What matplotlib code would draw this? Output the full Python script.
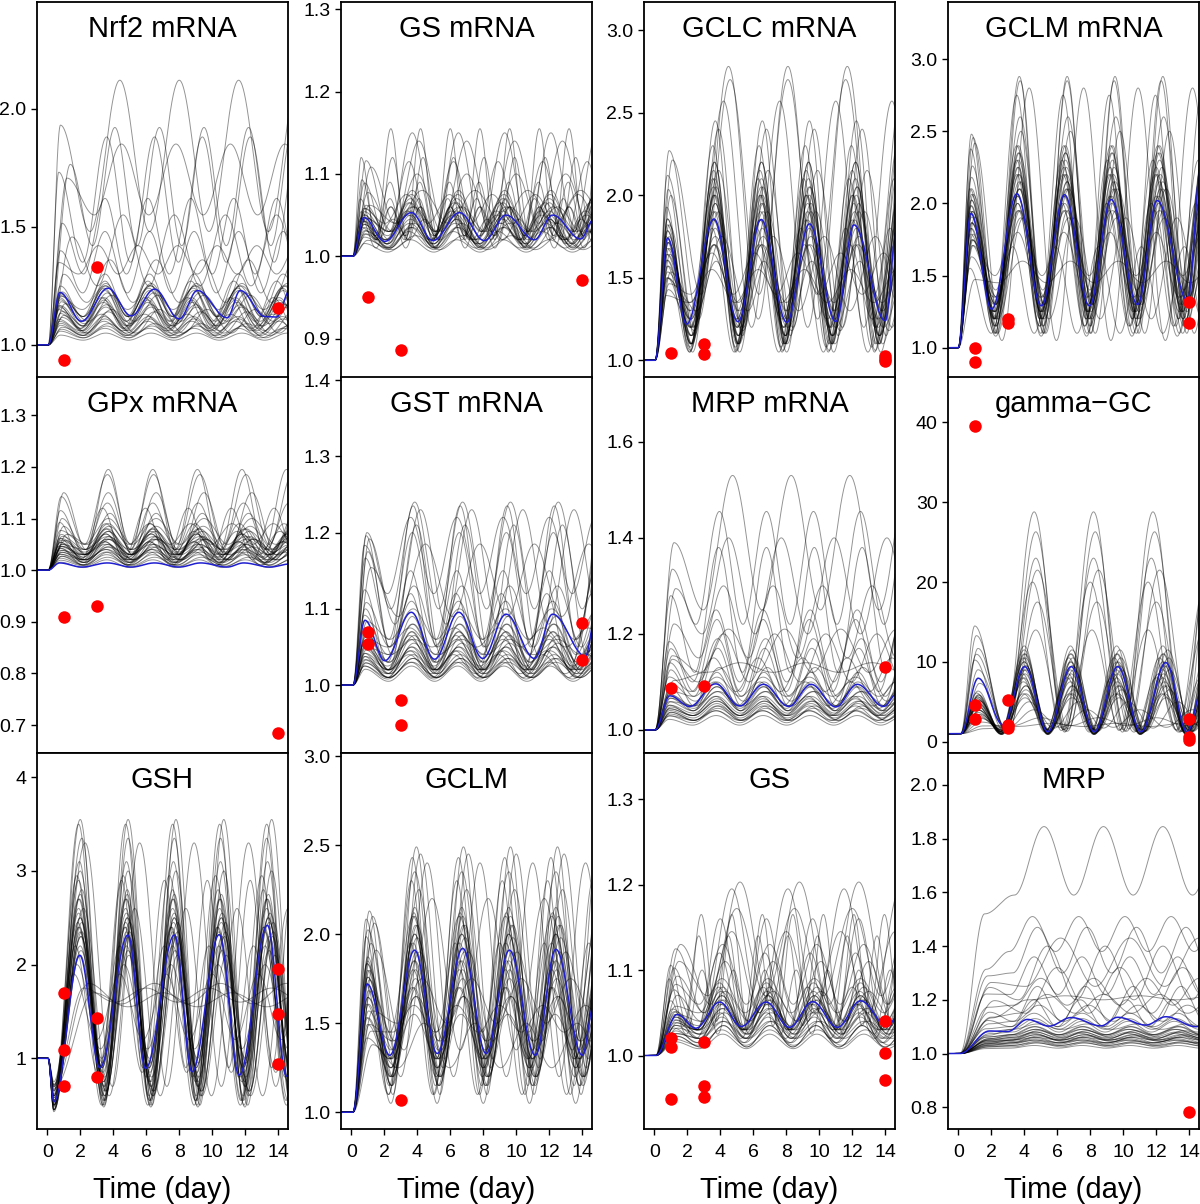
import numpy as np
import matplotlib
matplotlib.use("Agg")
import matplotlib.pyplot as plt

plt.rcParams['font.family'] = ['Liberation Sans', 'DejaVu Sans']

# ---------------- data ----------------
# blue mean curves: key points (time, value) at onset / peaks / troughs
nrf2_bt = [-0.7, 0.06, 0.77, 2.07, 3.68, 5.09, 6.5, 8.0, 9.1, 10.9, 11.7, 13.2, 13.9, 14.7]
nrf2_bv = [1, 1, 1.222, 1.10, 1.24, 1.123, 1.236, 1.11, 1.23, 1.115, 1.23, 1.12, 1.118, 1.23]
gsm_bt = [-0.7, 0.1, 0.77, 2.03, 3.64, 4.95, 6.56, 8.07, 9.38, 11.1, 12.2, 13.9, 14.7]
gsm_bv = [1, 1, 1.047, 1.018, 1.053, 1.019, 1.053, 1.019, 1.05, 1.02, 1.05, 1.021, 1.045]
gclcm_bt = [-0.7, 0.05, 0.81, 1.96, 3.62, 5.07, 6.48, 8.03, 9.4, 11.0, 12.1, 14.0, 14.7]
gclcm_bv = [1, 1, 1.74, 1.22, 1.856, 1.234, 1.853, 1.23, 1.826, 1.235, 1.82, 1.24, 1.8]
gclmm_bt = [-0.7, 0.0, 0.77, 2.02, 3.56, 5.03, 6.44, 7.95, 9.26, 10.87, 12.05, 13.9, 14.7]
gclmm_bv = [1, 1, 1.93, 1.267, 2.067, 1.29, 2.06, 1.29, 2.027, 1.3, 2.02, 1.33, 2.25]
gpx_bt = [-0.7, 0.05, 0.75, 2.1, 3.65, 5.1, 6.5, 8.0, 9.3, 10.9, 11.9, 13.5, 14.7]
gpx_bv = [1, 1, 1.014, 1.006, 1.014, 1.006, 1.014, 1.006, 1.014, 1.006, 1.014, 1.006, 1.012]
gst_bt = [-0.7, 0.1, 0.83, 2.03, 3.64, 5.05, 6.52, 7.97, 9.38, 11.1, 12.2, 14.2, 14.7]
gst_bv = [1, 1, 1.085, 1.032, 1.0955, 1.034, 1.0955, 1.035, 1.093, 1.035, 1.093, 1.038, 1.08]
mrpm_bt = [-0.7, 0.05, 0.95, 2.15, 3.72, 5.17, 6.62, 8.15, 9.5, 11.0, 12.3, 13.9, 14.7]
mrpm_bv = [1, 1, 1.071, 1.049, 1.096, 1.05, 1.095, 1.049, 1.095, 1.048, 1.095, 1.049, 1.075]
ggc_bt = [-0.7, 0.15, 1.21, 2.72, 4.02, 5.43, 6.84, 8.25, 9.66, 11.07, 12.58, 13.88, 14.7]
ggc_bv = [1, 1, 7.95, 2.1, 9.4, 1.25, 9.4, 1.25, 9.4, 1.25, 9.9, 1.2, 6.0]
gsh_bt = [-0.7, 0.05, 0.4, 1.97, 3.19, 4.89, 5.96, 7.71, 8.77, 10.42, 11.63, 13.34, 14.5, 14.7]
gsh_bv = [1, 1, 0.537, 2.10, 0.9, 2.316, 0.893, 2.316, 0.857, 2.32, 0.82, 2.42, 0.81, 0.85]
gclm_bt = [-0.7, 0.1, 0.97, 2.34, 3.84, 5.21, 6.76, 8.17, 9.58, 11.15, 12.4, 14.0, 14.7]
gclm_bv = [1, 1, 1.72, 1.32, 1.91, 1.33, 1.92, 1.33, 1.91, 1.32, 1.915, 1.32, 1.6]
gs_bt = [-0.7, 0.1, 1.39, 2.52, 3.97, 5.27, 6.78, 8.19, 9.6, 11.1, 12.5, 14.13, 14.7]
gs_bv = [1, 1, 1.048, 1.032, 1.0625, 1.034, 1.0625, 1.033, 1.063, 1.033, 1.064, 1.034, 1.045]
mrp_bt = [-0.7, 0.1, 1.9, 3.0, 4.2, 5.5, 6.84, 8.65, 9.66, 11.37, 12.58, 14.4, 14.7]
mrp_bv = [1, 1, 1.084, 1.082, 1.127, 1.102, 1.134, 1.103, 1.135, 1.106, 1.137, 1.10, 1.102]

# highest first peak of the gray curves in each panel
first_max = [1.93, 1.12, 2.27, 2.48, 1.15, 1.2, 1.39, 14.5, 3.55, 2.13, 1.13, 1.52]

# gray simulation curves: peak level, trough level, period (day), first peak time
nrf2_gp = [2.12, 1.92, 1.88, 1.85, 1.62, 1.55, 1.48, 1.42, 1.36, 1.30, 1.27, 1.25, 1.23, 1.21, 1.19, 1.17, 1.15, 1.13, 1.11, 1.09, 1.07, 1.05, 1.25, 1.2,
           1.26, 1.24, 1.22, 1.2, 1.18, 1.16, 1.14, 1.12, 1.1, 1.08]
nrf2_gt = [1.48, 1.42, 1.35, 1.55, 1.30, 1.25, 1.22, 1.30, 1.18, 1.12, 1.10, 1.15, 1.08, 1.10, 1.06, 1.08, 1.05, 1.06, 1.04, 1.04, 1.03, 1.02, 1.12, 1.07,
           1.12, 1.1, 1.09, 1.08, 1.07, 1.06, 1.05, 1.05, 1.04, 1.03]
nrf2_gper = [3.6, 2.7, 2.9, 3.3, 2.6, 3.1, 2.7, 2.4, 2.8, 2.7, 2.6, 2.75, 2.7, 2.8, 2.65, 2.7, 2.9, 2.6, 2.7, 2.8, 2.7, 2.75, 2.7, 2.6,
             2.75, 2.7, 2.8, 2.65, 2.7, 2.75, 2.8, 2.7, 2.65, 2.75]
nrf2_gt1 = [0.8, 1.4, 0.7, 1.2, 0.9, 1.5, 0.8, 0.7, 1.0, 0.8, 0.9, 0.75, 0.8, 1.1, 0.8, 0.9, 1.0, 0.7, 0.8, 0.9, 0.8, 0.8, 0.85, 0.7,
            0.8, 0.75, 0.85, 0.8, 0.7, 0.8, 0.9, 0.75, 0.8, 0.85]

gsm_gp = [1.155, 1.15, 1.14, 1.12, 1.115, 1.10, 1.09, 1.08, 1.075, 1.07, 1.065, 1.06, 1.055, 1.05, 1.045, 1.04, 1.035, 1.03, 1.025, 1.02, 1.06, 1.08,
          1.07, 1.065, 1.06, 1.055, 1.05, 1.045, 1.04, 1.06, 1.075, 1.035]
gsm_gt = [1.02, 1.03, 1.04, 1.02, 1.015, 1.03, 1.025, 1.02, 1.04, 1.02, 1.015, 1.03, 1.02, 1.01, 1.02, 1.015, 1.01, 1.01, 1.008, 1.005, 1.01, 1.04,
          1.025, 1.02, 1.03, 1.015, 1.02, 1.012, 1.01, 1.025, 1.03, 1.008]
gsm_gper = [1.8, 2.8, 2.9, 1.85, 2.7, 3.0, 1.8, 2.8, 2.6, 1.75, 2.8, 2.9, 2.7, 2.8, 1.9, 2.75, 2.8, 2.7, 2.9, 2.8, 1.8, 3.2,
            2.8, 2.75, 2.85, 2.8, 2.7, 2.8, 2.9, 1.8, 2.8, 2.8]
gsm_gt1 = [0.6, 0.9, 1.2, 0.65, 0.8, 1.0, 0.55, 0.9, 0.75, 0.6, 0.8, 0.9, 0.7, 0.8, 0.65, 0.8, 0.9, 0.8, 1.0, 0.8, 0.6, 1.1,
           0.8, 0.75, 0.85, 0.8, 0.75, 0.8, 0.9, 0.6, 0.85, 0.8]

gclcm_gp = [2.78, 2.7, 2.57, 2.45, 2.4, 2.3, 2.2, 2.15, 2.1, 2.05, 2.0, 1.95, 1.9, 1.85, 1.8, 1.75, 1.7, 1.65, 1.6, 1.55, 2.2, 1.9, 2.0, 1.7,
            2.1, 2.0, 1.95, 1.9, 1.85, 1.8, 1.75, 2.15, 2.05, 1.7]
gclcm_gt = [1.25, 1.4, 1.2, 1.1, 1.15, 1.05, 1.1, 1.2, 1.08, 1.3, 1.15, 1.1, 1.25, 1.2, 1.05, 1.3, 1.15, 1.4, 1.2, 1.35, 1.1, 1.18, 1.06, 1.25,
            1.15, 1.2, 1.1, 1.25, 1.2, 1.15, 1.3, 1.1, 1.05, 1.35]
gclcm_gper = [3.6, 3.5, 3.4, 2.85, 2.9, 2.8, 2.85, 3.0, 2.75, 2.9, 2.85, 2.8, 2.9, 2.85, 2.7, 3.1, 2.85, 2.6, 2.9, 2.8, 2.85, 2.95, 2.8, 2.75,
              2.85, 2.8, 2.9, 2.85, 2.8, 2.85, 2.9, 2.8, 2.85, 2.9]
gclcm_gt1 = [0.9, 1.1, 0.8, 0.85, 1.0, 0.75, 0.8, 0.9, 0.8, 0.7, 0.85, 0.9, 0.8, 0.75, 0.8, 1.0, 0.8, 0.9, 0.85, 0.7, 0.8, 0.95, 0.8, 0.85,
             0.8, 0.85, 0.8, 0.75, 0.8, 0.85, 0.8, 0.8, 0.9, 0.75]

gclmm_gp = [2.88, 2.85, 2.8, 2.75, 2.6, 2.5, 2.4, 2.35, 2.3, 2.25, 2.2, 2.15, 2.1, 2.05, 2.0, 1.95, 1.9, 1.8, 1.7, 1.6, 2.4, 2.2, 1.95, 2.1,
            2.3, 2.2, 2.15, 2.1, 2.05, 2.0, 1.95, 2.25, 2.35, 1.9]
gclmm_gt = [1.1, 1.15, 1.05, 1.2, 1.3, 1.1, 1.25, 1.35, 1.15, 1.2, 1.4, 1.1, 1.3, 1.25, 1.15, 1.5, 1.2, 1.35, 1.1, 1.45, 1.2, 1.3, 1.08, 1.25,
            1.25, 1.2, 1.3, 1.15, 1.25, 1.3, 1.2, 1.1, 1.2, 1.35]
gclmm_gper = [2.9, 2.85, 3.3, 2.8, 2.9, 3.0, 2.85, 2.8, 2.75, 2.9, 2.85, 2.8, 2.95, 2.85, 2.7, 2.85, 3.1, 2.8, 2.6, 2.9, 2.85, 2.8, 2.75, 2.9,
              2.85, 2.8, 2.9, 2.85, 2.8, 2.85, 2.9, 2.8, 2.85, 2.9]
gclmm_gt1 = [0.8, 0.9, 1.0, 0.75, 0.85, 0.8, 0.7, 0.9, 0.8, 0.75, 0.85, 1.0, 0.8, 0.75, 0.9, 0.8, 0.85, 0.8, 0.7, 1.0, 0.8, 0.85, 0.9, 0.8,
             0.8, 0.75, 0.8, 0.85, 0.8, 0.75, 0.85, 0.8, 0.8, 0.9]

gpx_gp = [1.195, 1.185, 1.15, 1.13, 1.12, 1.11, 1.10, 1.09, 1.085, 1.08, 1.075, 1.07, 1.065, 1.06, 1.055, 1.05, 1.045, 1.04, 1.035, 1.03, 1.025, 1.02, 1.09, 1.06,
          1.08, 1.07, 1.065, 1.06, 1.055, 1.05, 1.045, 1.04, 1.035, 1.075]
gpx_gt = [1.04, 1.05, 1.03, 1.04, 1.02, 1.03, 1.05, 1.025, 1.04, 1.02, 1.03, 1.015, 1.04, 1.02, 1.01, 1.03, 1.015, 1.02, 1.01, 1.01, 1.008, 1.005, 1.05, 1.03,
          1.03, 1.025, 1.02, 1.03, 1.02, 1.015, 1.02, 1.015, 1.01, 1.035]
gpx_gper = [2.7, 2.8, 2.9, 2.75, 2.6, 2.8, 2.9, 2.7, 2.85, 2.8, 2.6, 2.75, 2.8, 2.9, 2.7, 2.8, 2.75, 2.8, 2.7, 2.8, 2.85, 2.8, 2.5, 2.95,
            2.8, 2.75, 2.85, 2.8, 2.7, 2.8, 2.9, 2.75, 2.8, 2.85]
gpx_gt1 = [1.0, 0.85, 0.8, 0.9, 0.75, 1.0, 0.8, 0.85, 0.9, 0.75, 1.1, 0.8, 0.85, 0.9, 0.8, 0.75, 0.9, 0.8, 0.85, 0.8, 0.8, 0.8, 1.2, 0.7,
           0.85, 0.8, 0.9, 0.85, 0.8, 0.9, 0.85, 0.8, 0.9, 0.85]

gst_gp = [1.24, 1.235, 1.23, 1.22, 1.21, 1.2, 1.185, 1.15, 1.13, 1.12, 1.11, 1.1, 1.09, 1.08, 1.075, 1.07, 1.065, 1.06, 1.05, 1.045, 1.04, 1.035, 1.03, 1.025,
          1.07, 1.06, 1.055, 1.05, 1.045, 1.04, 1.035, 1.03, 1.08, 1.065]
gst_gt = [1.1, 1.05, 1.08, 1.12, 1.04, 1.06, 1.09, 1.03, 1.05, 1.02, 1.04, 1.06, 1.02, 1.03, 1.05, 1.015, 1.02, 1.04, 1.01, 1.02, 1.015, 1.01, 1.01, 1.005,
          1.02, 1.025, 1.015, 1.02, 1.01, 1.015, 1.01, 1.008, 1.03, 1.02]
gst_gper = [2.9, 2.85, 3.1, 2.8, 2.95, 2.85, 3.3, 2.8, 2.9, 2.75, 2.85, 2.8, 2.9, 2.85, 2.7, 2.85, 2.8, 2.9, 2.85, 2.8, 2.7, 2.85, 2.9, 2.8,
            2.85, 2.8, 2.9, 2.85, 2.75, 2.85, 2.9, 2.8, 2.85, 2.9]
gst_gt1 = [0.95, 0.9, 1.1, 0.8, 1.0, 0.85, 1.2, 0.8, 0.9, 0.85, 0.8, 0.95, 0.8, 0.9, 0.85, 0.8, 0.75, 0.9, 0.8, 0.85, 0.8, 0.9, 0.8, 0.85,
           0.85, 0.8, 0.9, 0.85, 0.8, 0.9, 0.85, 0.8, 0.85, 0.9]

mrpm_gp = [1.53, 1.455, 1.4, 1.38, 1.3, 1.25, 1.23, 1.21, 1.19, 1.17, 1.15, 1.13, 1.12, 1.11, 1.1, 1.09, 1.08, 1.07, 1.06, 1.05, 1.04, 1.03, 1.14, 1.2,
           1.1, 1.09, 1.08, 1.07, 1.065, 1.06, 1.055, 1.05, 1.045, 1.04]
mrpm_gt = [1.25, 1.22, 1.2, 1.12, 1.15, 1.1, 1.08, 1.12, 1.07, 1.05, 1.08, 1.06, 1.04, 1.07, 1.05, 1.04, 1.05, 1.03, 1.03, 1.02, 1.02, 1.01, 1.12, 1.1,
           1.05, 1.045, 1.04, 1.035, 1.03, 1.03, 1.025, 1.02, 1.02, 1.015]
mrpm_gper = [3.55, 2.85, 3.2, 2.9, 3.0, 2.85, 2.8, 3.4, 2.9, 2.85, 2.7, 2.9, 2.85, 2.8, 2.75, 2.85, 2.9, 2.8, 2.85, 2.9, 2.8, 2.85, 4.0, 3.1,
             2.85, 2.8, 2.9, 2.85, 2.8, 2.9, 2.85, 2.8, 2.9, 2.85]
mrpm_gt1 = [1.2, 1.1, 1.3, 1.0, 1.2, 0.9, 1.0, 1.1, 0.95, 1.0, 0.9, 1.05, 0.95, 1.0, 0.9, 0.95, 1.0, 0.9, 0.95, 1.0, 0.95, 0.9, 1.2, 1.1,
            0.95, 1.0, 0.9, 0.95, 1.0, 0.9, 0.95, 1.0, 0.95, 0.9]

ggc_gp = [28.8, 26.3, 23, 21.5, 20, 17.5, 14, 12, 11.5, 11, 10.5, 10, 9.5, 9, 8.5, 8, 7.5, 7, 6.5, 6, 5, 4, 3, 2.3,
          10, 9.5, 9, 8.5, 8, 7, 11, 10.5, 6, 5.5]
ggc_gt = [1.5, 1.3, 1.2, 1.6, 1.4, 1.3, 1.5, 1.0, 1.2, 0.9, 1.3, 1.0, 1.1, 1.4, 0.9, 1.2, 1.5, 1.0, 1.3, 1.6, 1.7, 1.8, 2.0, 1.9,
          1.1, 1.2, 0.9, 1.3, 1.0, 1.2, 1.0, 1.3, 1.4, 1.5]
ggc_gper = [3.6, 3.6, 3.5, 3.7, 3.5, 3.6, 3.4, 2.8, 2.9, 2.8, 2.75, 2.85, 2.8, 2.9, 2.8, 2.7, 2.85, 2.8, 2.9, 2.8, 3.0, 3.2, 3.5, 4.0,
            2.8, 2.85, 2.8, 2.75, 2.8, 2.85, 2.8, 2.9, 2.8, 2.85]
ggc_gt1 = [1.0, 1.1, 1.2, 1.1, 1.0, 1.2, 1.3, 1.2, 1.1, 1.25, 1.2, 1.15, 1.3, 1.2, 1.25, 1.2, 1.1, 1.3, 1.2, 1.15, 1.3, 1.4, 1.5, 1.6,
           1.2, 1.25, 1.2, 1.15, 1.2, 1.25, 1.2, 1.15, 1.3, 1.2]

gsh_gp = [3.55, 3.5, 3.35, 3.3, 3.1, 3.0, 2.95, 2.8, 2.7, 2.6, 2.5, 2.45, 2.4, 2.3, 2.2, 2.1, 2.0, 1.9, 1.8, 1.75, 1.7, 2.75, 2.9, 2.35,
          2.5, 2.4, 2.3, 2.6, 2.2, 2.45, 2.7, 2.35, 2.55, 2.15]
gsh_gt = [0.5, 0.6, 0.55, 0.7, 0.5, 0.65, 0.8, 0.55, 0.9, 0.6, 0.75, 1.0, 0.5, 0.7, 0.85, 0.6, 1.1, 1.2, 1.58, 1.6, 1.55, 0.48, 0.9, 0.65,
          0.7, 0.8, 0.6, 0.9, 0.75, 0.65, 0.85, 0.55, 0.95, 0.8]
gsh_gper = [2.9, 2.85, 2.8, 3.3, 2.85, 2.9, 2.8, 2.75, 2.85, 3.1, 2.85, 2.9, 2.8, 2.85, 2.7, 2.95, 2.85, 2.8, 4.0, 3.8, 4.2, 2.85, 2.6, 2.9,
            2.85, 2.8, 2.9, 2.85, 2.8, 2.9, 2.85, 2.8, 2.9, 2.85]
gsh_gt1 = [2.0, 1.9, 2.1, 2.3, 1.95, 2.0, 1.8, 2.1, 1.9, 2.2, 2.0, 1.85, 1.9, 2.05, 1.7, 2.0, 1.8, 1.6, 2.5, 2.2, 2.8, 2.0, 1.9, 2.1,
           2.0, 1.95, 2.05, 1.9, 2.0, 2.1, 1.95, 2.0, 1.9, 2.05]
gsh_gdip = [0.45, 0.5, 0.48, 0.6, 0.45, 0.55, 0.65, 0.5, 0.7, 0.52, 0.6, 0.7, 0.45, 0.58, 0.66, 0.5, 0.72, 0.75, 0.7, 0.72, 0.68, 0.43, 0.62, 0.55,
            0.5, 0.55, 0.45, 0.6, 0.55, 0.5, 0.6, 0.45, 0.65, 0.58]

gclm_gp = [2.49, 2.45, 2.43, 2.4, 2.35, 2.3, 2.25, 2.2, 2.15, 2.1, 2.05, 2.0, 1.95, 1.9, 1.85, 1.8, 1.75, 1.7, 1.65, 1.6, 1.55, 2.12, 1.98, 1.5,
           2.0, 1.95, 1.9, 1.85, 1.8, 2.05, 1.75, 1.7, 2.1, 1.65]
gclm_gt = [1.1, 1.3, 1.15, 1.2, 1.4, 1.1, 1.25, 1.35, 1.15, 1.45, 1.2, 1.3, 1.1, 1.4, 1.25, 1.15, 1.5, 1.3, 1.2, 1.45, 1.3, 1.05, 1.35, 1.25,
           1.25, 1.3, 1.2, 1.35, 1.2, 1.15, 1.3, 1.25, 1.2, 1.4]
gclm_gper = [2.85, 2.9, 2.8, 3.2, 2.85, 2.75, 2.9, 3.4, 2.85, 2.8, 2.9, 2.85, 2.7, 2.95, 2.8, 2.85, 3.0, 2.8, 2.9, 2.6, 2.85, 2.8, 2.9, 3.1,
             2.85, 2.8, 2.9, 2.85, 2.8, 2.9, 2.85, 2.8, 2.9, 2.85]
gclm_gt1 = [1.1, 1.3, 0.9, 1.4, 1.0, 0.9, 1.2, 1.5, 1.0, 0.95, 1.1, 1.0, 0.9, 1.2, 1.0, 1.05, 1.3, 0.9, 1.0, 1.2, 0.95, 1.0, 1.1, 1.3,
            1.0, 0.95, 1.05, 1.0, 0.95, 1.0, 1.05, 1.0, 0.95, 1.1]

gs_gp = [1.203, 1.195, 1.172, 1.165, 1.16, 1.145, 1.14, 1.13, 1.12, 1.11, 1.1, 1.09, 1.085, 1.08, 1.075, 1.07, 1.065, 1.06, 1.055, 1.05, 1.04, 1.035, 1.03, 1.025,
         1.07, 1.065, 1.06, 1.055, 1.05, 1.045, 1.04, 1.075, 1.08, 1.035]
gs_gt = [1.06, 1.05, 1.07, 1.04, 1.03, 1.05, 1.035, 1.06, 1.03, 1.04, 1.025, 1.05, 1.03, 1.02, 1.04, 1.025, 1.03, 1.02, 1.03, 1.015, 1.02, 1.01, 1.012, 1.008,
         1.03, 1.025, 1.03, 1.02, 1.025, 1.015, 1.02, 1.035, 1.03, 1.01]
gs_gper = [3.6, 3.4, 3.5, 1.85, 2.8, 3.3, 1.8, 2.85, 2.75, 2.9, 1.9, 2.8, 2.85, 2.7, 2.9, 2.8, 2.85, 2.75, 2.9, 2.8, 2.85, 2.8, 2.9, 2.85,
           2.8, 2.85, 2.75, 2.8, 2.85, 2.8, 2.9, 2.8, 2.85, 2.8]
gs_gt1 = [1.6, 1.3, 1.5, 1.0, 1.2, 1.4, 0.9, 1.3, 1.2, 1.4, 1.0, 1.3, 1.1, 1.2, 1.4, 1.3, 1.2, 1.4, 1.3, 1.2, 1.3, 1.4, 1.2, 1.3,
          1.3, 1.35, 1.25, 1.3, 1.4, 1.3, 1.35, 1.25, 1.3, 1.4]

mrp_gp = [1.845, 1.51, 1.47, 1.43, 1.4, 1.36, 1.32, 1.28, 1.25, 1.22, 1.2, 1.18, 1.15, 1.13, 1.12, 1.11, 1.1, 1.09, 1.08, 1.07, 1.06, 1.05, 1.04, 1.03, 1.215,
          1.1, 1.09, 1.085, 1.08, 1.075, 1.07, 1.065, 1.06, 1.055, 1.05, 1.045, 1.04]
mrp_gt = [1.59, 1.38, 1.3, 1.25, 1.2, 1.22, 1.15, 1.18, 1.12, 1.15, 1.1, 1.12, 1.1, 1.09, 1.08, 1.09, 1.07, 1.07, 1.06, 1.05, 1.05, 1.04, 1.03, 1.02, 1.2,
          1.07, 1.065, 1.06, 1.055, 1.05, 1.05, 1.045, 1.04, 1.04, 1.035, 1.03, 1.025]
mrp_gper = [3.6, 2.8, 3.0, 4.2, 3.5, 2.9, 3.8, 3.2, 2.9, 3.4, 2.8, 3.0, 2.9, 2.85, 2.8, 3.0, 2.9, 2.8, 2.85, 3.0, 2.9, 2.8, 2.85, 2.9, 4.5,
            2.9, 2.85, 2.95, 2.9, 2.85, 2.9, 2.95, 2.9, 2.85, 2.9, 2.95, 2.9]
mrp_gt1 = [1.6, 1.7, 1.8, 2.0, 1.9, 1.7, 2.2, 1.8, 1.9, 2.0, 1.8, 1.9, 1.7, 1.8, 1.9, 1.8, 1.7, 1.9, 1.8, 1.7, 1.8, 1.9, 1.8, 1.7, 2.0,
           1.8, 1.85, 1.9, 1.8, 1.75, 1.85, 1.9, 1.8, 1.85, 1.75, 1.8, 1.9]

# red measured points
nrf2_rt, nrf2_rv = [1, 3, 14], [0.935, 1.328, 1.158]
gsm_rt, gsm_rv = [1, 3, 14], [0.951, 0.886, 0.971]
gclcm_rt, gclcm_rv = [1, 3, 3, 14, 14, 14], [1.046, 1.097, 1.04, 1.026, 1.01, 0.996]
gclmm_rt, gclmm_rv = [1, 1, 3, 3, 14, 14], [1.0, 0.90, 1.197, 1.174, 1.32, 1.174]
gpx_rt, gpx_rv = [1, 3, 14], [0.909, 0.93, 0.685]
gst_rt, gst_rv = [1, 1, 3, 3, 14, 14], [1.069, 1.054, 0.981, 0.948, 1.081, 1.033]
mrpm_rt, mrpm_rv = [1, 3, 14], [1.087, 1.092, 1.132]
ggc_rt, ggc_rv = [1, 1, 1, 3, 3, 3, 14, 14, 14], [39.6, 4.6, 2.9, 5.2, 2.1, 1.7, 2.8, 0.6, 0.2]
gsh_rt, gsh_rv = [1, 1, 1, 3, 3, 14, 14, 14], [1.70, 1.089, 0.70, 1.427, 0.797, 1.95, 1.473, 0.94]
gclm_rt, gclm_rv = [3], [1.069]
gs_rt, gs_rv = [1, 1, 1, 3, 3, 3, 14, 14, 14], [1.020, 1.010, 0.949, 1.016, 0.964, 0.951, 1.040, 1.003, 0.971]
mrp_rt, mrp_rv = [14], [0.782]

titles = ["Nrf2 mRNA", "GS mRNA", "GCLC mRNA", "GCLM mRNA",
          "GPx mRNA", "GST mRNA", "MRP mRNA", "gamma\u2212GC",
          "GSH", "GCLM", "GS", "MRP"]
ylims = [(0.86, 2.451), (0.852, 1.309), (0.893, 3.17), (0.79, 3.396),
         (0.646, 1.374), (0.911, 1.404), (0.952, 1.735), (-1.42, 45.7),
         (0.245, 4.26), (0.906, 3.017), (0.914, 1.354), (0.719, 2.119)]
yticks = [[1.0, 1.5, 2.0], [0.9, 1.0, 1.1, 1.2, 1.3], [1.0, 1.5, 2.0, 2.5, 3.0], [1.0, 1.5, 2.0, 2.5, 3.0],
          [0.7, 0.8, 0.9, 1.0, 1.1, 1.2, 1.3], [1.0, 1.1, 1.2, 1.3, 1.4], [1.0, 1.2, 1.4, 1.6], [0, 10, 20, 30, 40],
          [1, 2, 3, 4], [1.0, 1.5, 2.0, 2.5, 3.0], [1.0, 1.1, 1.2, 1.3], [0.8, 1.0, 1.2, 1.4, 1.6, 1.8, 2.0]]
int_labels = [False] * 7 + [True, True] + [False] * 3
xticks = [0, 2, 4, 6, 8, 10, 12, 14]

panels = [
    (nrf2_bt, nrf2_bv, nrf2_gp, nrf2_gt, nrf2_gper, nrf2_gt1, None, nrf2_rt, nrf2_rv),
    (gsm_bt, gsm_bv, gsm_gp, gsm_gt, gsm_gper, gsm_gt1, None, gsm_rt, gsm_rv),
    (gclcm_bt, gclcm_bv, gclcm_gp, gclcm_gt, gclcm_gper, gclcm_gt1, None, gclcm_rt, gclcm_rv),
    (gclmm_bt, gclmm_bv, gclmm_gp, gclmm_gt, gclmm_gper, gclmm_gt1, None, gclmm_rt, gclmm_rv),
    (gpx_bt, gpx_bv, gpx_gp, gpx_gt, gpx_gper, gpx_gt1, None, gpx_rt, gpx_rv),
    (gst_bt, gst_bv, gst_gp, gst_gt, gst_gper, gst_gt1, None, gst_rt, gst_rv),
    (mrpm_bt, mrpm_bv, mrpm_gp, mrpm_gt, mrpm_gper, mrpm_gt1, None, mrpm_rt, mrpm_rv),
    (ggc_bt, ggc_bv, ggc_gp, ggc_gt, ggc_gper, ggc_gt1, None, ggc_rt, ggc_rv),
    (gsh_bt, gsh_bv, gsh_gp, gsh_gt, gsh_gper, gsh_gt1, gsh_gdip, gsh_rt, gsh_rv),
    (gclm_bt, gclm_bv, gclm_gp, gclm_gt, gclm_gper, gclm_gt1, None, gclm_rt, gclm_rv),
    (gs_bt, gs_bv, gs_gp, gs_gt, gs_gper, gs_gt1, None, gs_rt, gs_rv),
    (mrp_bt, mrp_bv, mrp_gp, mrp_gt, mrp_gper, mrp_gt1, None, mrp_rt, mrp_rv),
]


def smooth(kt, kv, tt):
    # cosine easing between successive key points
    kt = np.asarray(kt, float)
    kv = np.asarray(kv, float)
    i = np.clip(np.searchsorted(kt, tt) - 1, 0, len(kt) - 2)
    s = np.clip((tt - kt[i]) / (kt[i + 1] - kt[i]), 0, 1)
    return kv[i] + (kv[i + 1] - kv[i]) * (1 - np.cos(np.pi * s)) / 2


def gray_keys(p, tr, per, t1, first, onset, dip=None):
    kt, kv = [-0.7, onset], [1.0, 1.0]
    if dip is not None:
        kt.append(onset + 0.35)
        kv.append(dip)
    kt.append(t1)
    kv.append(first)
    t, k = t1, 0
    while t < 14.8:
        t += per / 2
        k += 1
        kt.append(t)
        kv.append(tr if k % 2 else p)
    return kt, kv


tt = np.linspace(-0.7, 14.7, 1600)

fig = plt.figure(figsize=(12, 12.04), dpi=100)
W, H = 1200, 1204
col_left = [37, 341, 644, 948]
row_top = [2, 377, 753]
aw, ah = 251, 376

for n, (bt, bv, gp, gt, gper, gt1, gdip, rt, rv) in enumerate(panels):
    r, c = divmod(n, 4)
    ax = fig.add_axes([col_left[c] / W, 1 - (row_top[r] + ah) / H, aw / W, ah / H])

    pmax = max(gp)
    for j in range(len(gp)):
        d = gdip[j] if gdip is not None else None
        first = 1 + (first_max[n] - 1) * (gp[j] - 1) / (pmax - 1)
        kt, kv = gray_keys(gp[j], gt[j], gper[j], gt1[j], first, bt[1], d)
        ax.plot(tt, smooth(kt, kv, tt), color='black', alpha=0.42, lw=0.7)
    ax.plot(tt, smooth(bt, bv, tt), color='#1f1fd0', lw=1.1)
    ax.plot(rt, rv, 'o', color='#ff0000', ms=9, mec='none', clip_on=False, zorder=5)

    ax.set_xlim(-0.62, 14.59)
    ax.set_ylim(*ylims[n])
    ax.set_yticks(yticks[n])
    if int_labels[n]:
        ax.set_yticklabels([str(int(v)) for v in yticks[n]])
    else:
        ax.set_yticklabels(["%.1f" % v for v in yticks[n]])
    ax.tick_params(axis='y', direction='out', length=4.5, width=1, labelsize=14, pad=3)
    ax.tick_params(axis='x', direction='out', length=4.5, width=1, labelsize=14, pad=6)
    if r == 2:
        ax.set_xticks(xticks)
        ax.set_xlabel("Time (day)", fontsize=21, labelpad=11)
    else:
        ax.set_xticks([])
    for sp in ax.spines.values():
        sp.set_linewidth(1.3)
    ax.text(0.5, 0.928, titles[n], transform=ax.transAxes, ha='center', va='center', fontsize=21)

fig.savefig("out.png", dpi=100)
